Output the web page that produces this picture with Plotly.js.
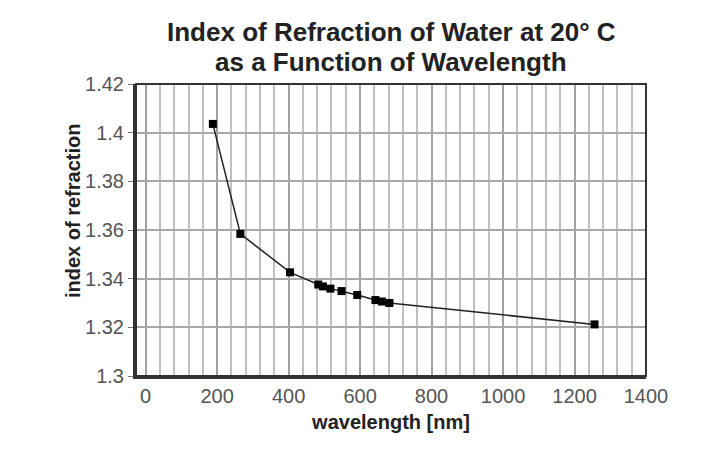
<!DOCTYPE html>
<html>
<head>
<meta charset="utf-8">
<script src="https://cdn.plot.ly/plotly-3.0.1.min.js"></script>
<style>
  html, body { margin: 0; padding: 0; background: #fff; }
  #chart { width: 720px; height: 462px; }
</style>
</head>
<body>
<div id="chart"></div>
<script>
// Wavelength in nm
const wavelength = [188, 265, 404, 483, 496, 517, 548, 592, 643, 661, 682, 1256];
// Index of refraction
const refractiveIndex = [1.4036, 1.3584, 1.3426, 1.3376, 1.3368, 1.3359, 1.3349, 1.3333, 1.3312, 1.3306, 1.3300, 1.3212];

const titleLines = ['Index of Refraction of Water at 20° C', 'as a Function of Wavelength'];
const xTitle = 'wavelength [nm]';
const yTitle = 'index of refraction';

const trace = {
  x: wavelength,
  y: refractiveIndex,
  type: 'scatter',
  mode: 'lines+markers',
  line: { color: '#222', width: 1.5 },
  marker: { symbol: 'square', size: 8, color: '#000' },
  hoverinfo: 'x+y'
};

const font = 'Liberation Sans, Arial, Helvetica, sans-serif';

const layout = {
  width: 720,
  height: 462,
  margin: { l: 136, r: 74, t: 84, b: 86 },
  paper_bgcolor: '#fff',
  plot_bgcolor: '#fff',
  showlegend: false,
  font: { family: font, color: '#555' },
  xaxis: {
    range: [-27, 1400],
    dtick: 200,
    tick0: 0,
    showgrid: true,
    gridcolor: '#a0a0a0',
    gridwidth: 2,
    minor: { dtick: 40, showgrid: true, gridcolor: '#c0c0c0', gridwidth: 2 },
    zeroline: false,
    showline: true,
    linecolor: '#333',
    linewidth: 3,
    ticks: '',
    tickfont: { family: font, size: 20, color: '#555' },
    title: { text: '<b>' + xTitle + '</b>', font: { family: font, size: 20, color: '#222' }, standoff: 9 },
    fixedrange: true
  },
  yaxis: {
    range: [1.3, 1.42],
    dtick: 0.02,
    tick0: 1.3,
    showgrid: true,
    gridcolor: '#a8a8a8',
    gridwidth: 2,
    zeroline: false,
    showline: true,
    linecolor: '#333',
    linewidth: 3,
    ticks: 'outside',
    ticklen: 5,
    tickcolor: '#777',
    tickwidth: 1,
    tickfont: { family: font, size: 20, color: '#555' },
    fixedrange: true
  },
  shapes: [{
    type: 'rect', xref: 'paper', yref: 'paper',
    x0: 0, x1: 1, y0: 0, y1: 1,
    line: { color: '#333', width: 2 }
  }],
  annotations: [
    {
      text: '<b>' + titleLines[0] + '</b>',
      xref: 'paper', yref: 'paper',
      x: 0.5, y: (376 - 32) / 292,
      xanchor: 'center', yanchor: 'middle',
      showarrow: false,
      font: { family: font, size: 26, color: '#222' }
    },
    {
      text: '<b>' + titleLines[1] + '</b>',
      xref: 'paper', yref: 'paper',
      x: 0.5, y: (376 - 62) / 292,
      xanchor: 'center', yanchor: 'middle',
      showarrow: false,
      font: { family: font, size: 26, color: '#222' }
    },
    {
      text: '<b>' + yTitle + '</b>',
      xref: 'paper', yref: 'paper',
      x: -0.1235, y: 0.565,
      xanchor: 'center', yanchor: 'middle',
      textangle: -90,
      showarrow: false,
      font: { family: font, size: 20, color: '#222' }
    }
  ]
};

Plotly.newPlot('chart', [trace], layout, { displayModeBar: false, staticPlot: true });
</script>
</body>
</html>
